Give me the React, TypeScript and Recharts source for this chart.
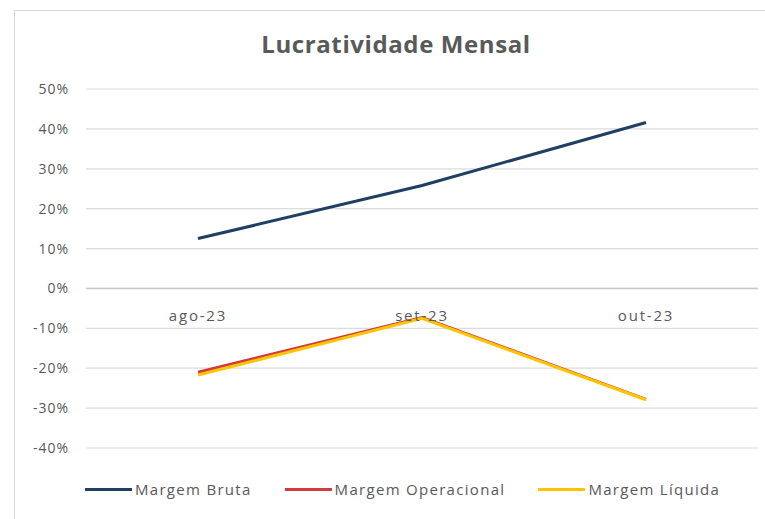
import { LineChart, Line, XAxis, YAxis, CartesianGrid, ReferenceLine, ReferenceDot } from "recharts";

const MESES = ["ago-23", "set-23", "out-23"];
const MARGEM_BRUTA = [12.5, 25.8, 41.6];
const MARGEM_OPERACIONAL = [-21, -7.3, -27.8];
const MARGEM_LIQUIDA = [-21.7, -7.5, -27.9];
const Y_TICKS = [-40, -30, -20, -10, 0, 10, 20, 30, 40, 50];

const SERIES = [
  { key: "bruta", nome: "Margem Bruta", cor: "#1F3F63" },
  { key: "operacional", nome: "Margem Operacional", cor: "#D23A3F" },
  { key: "liquida", nome: "Margem Líquida", cor: "#FFC400" },
];

const FONT = "'Open Sans', sans-serif";
const TEXTO = "#595959";

const data = MESES.map((m, i) => ({
  mes: m,
  bruta: MARGEM_BRUTA[i],
  operacional: MARGEM_OPERACIONAL[i],
  liquida: MARGEM_LIQUIDA[i],
}));

export default function App() {
  return (
    <div style={{ position: "absolute", left: 0, top: 0, width: 765, height: 519, overflow: "hidden", background: "#fff", fontFamily: FONT }}>
      {/* moldura do gráfico */}
      <div style={{ position: "absolute", left: 14, top: 10, width: 780, height: 530, border: "1px solid #d9d9d9" }} />

      <div style={{ position: "absolute", left: 0, width: 792, top: 27, textAlign: "center", fontSize: 24, fontWeight: 700, letterSpacing: 0.6, color: TEXTO }}>
        Lucratividade Mensal
      </div>

      <div style={{ position: "absolute", left: 15, top: 11 }}>
        <LineChart width={745} height={505} data={data} margin={{ top: 78, right: 2, left: 11, bottom: 68 }}>
          <CartesianGrid horizontal vertical={false} stroke="#dcdcdc" strokeWidth={1.2} />
          <XAxis dataKey="mes" hide padding={{ left: 112, right: 112 }} />
          <YAxis
            domain={[-40, 50]}
            ticks={Y_TICKS}
            width={60}
            axisLine={false}
            tickLine={false}
            tickSize={0}
            tickMargin={17}
            tickFormatter={(v: number) => `${v}%`}
            tick={{ fontSize: 14, fill: TEXTO, fontFamily: FONT, letterSpacing: 1 }}
          />
          <ReferenceLine y={0} stroke="#c8c8c8" strokeWidth={1.5} />
          {MESES.map(m => (
            <ReferenceDot
              key={m}
              x={m}
              y={0}
              r={0}
              stroke="none"
              fill="none"
              label={{ value: m, position: "bottom", offset: 22, fontSize: 15, fill: TEXTO, fontFamily: FONT, letterSpacing: 1.8 }}
            />
          ))}
          {SERIES.map(s => (
            <Line
              key={s.key}
              dataKey={s.key}
              stroke={s.cor}
              strokeWidth={3}
              dot={false}
              activeDot={false}
              isAnimationActive={false}
            />
          ))}
        </LineChart>
      </div>

      {/* legenda */}
      <div style={{ position: "absolute", left: 85, top: 479, display: "flex", gap: 33, alignItems: "center" }}>
        {SERIES.map(s => (
          <div key={s.key} style={{ display: "flex", alignItems: "center", gap: 3, fontSize: 15, letterSpacing: 1.3, color: TEXTO }}>
            <span style={{ display: "inline-block", width: 47, height: 3, background: s.cor }} />
            <span>{s.nome}</span>
          </div>
        ))}
      </div>
    </div>
  );
}
